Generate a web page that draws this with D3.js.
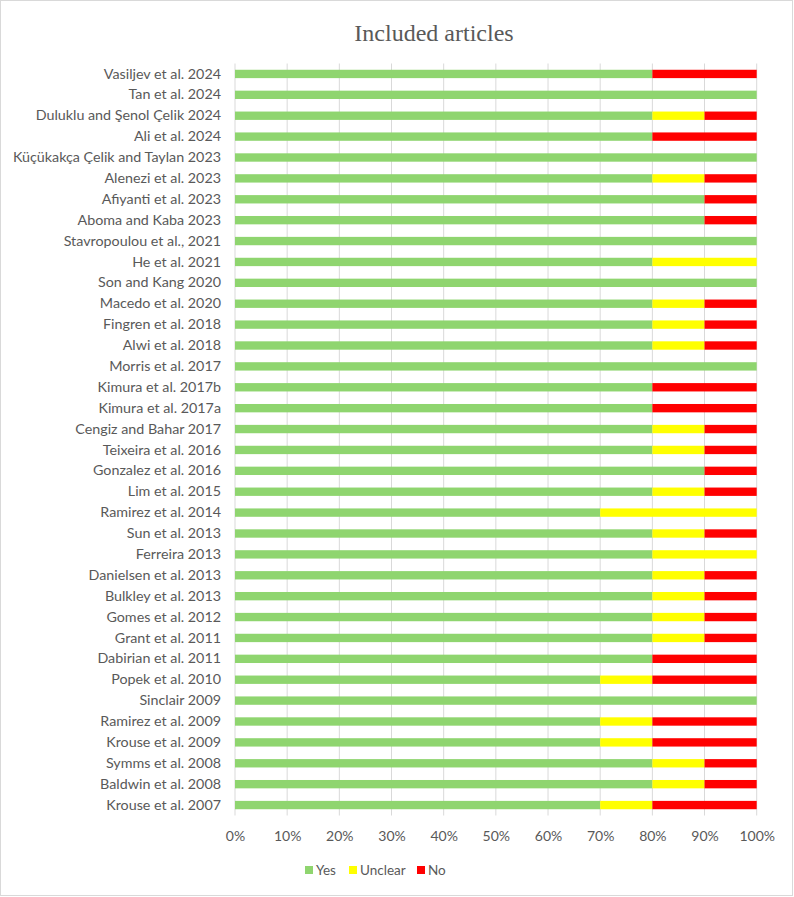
<!DOCTYPE html>
<html>
<head>
<meta charset="utf-8">
<script src="https://cdn.jsdelivr.net/npm/d3@7"></script>
<style>
  body { margin: 0; background: #fff; }
  svg { display: block; }
</style>
</head>
<body>
<svg id="chart" width="794" height="897"></svg>
<script>
const articles = [
  "Vasiljev et al. 2024", "Tan et al. 2024", "Duluklu and Şenol Çelik 2024", "Ali et al. 2024",
  "Küçükakça Çelik and Taylan 2023", "Alenezi et al. 2023", "Afiyanti et al. 2023", "Aboma and Kaba 2023",
  "Stavropoulou et al., 2021", "He et al. 2021", "Son and Kang 2020", "Macedo et al. 2020",
  "Fingren et al. 2018", "Alwi et al. 2018", "Morris et al. 2017", "Kimura et al. 2017b",
  "Kimura et al. 2017a", "Cengiz and Bahar 2017", "Teixeira et al. 2016", "Gonzalez et al. 2016",
  "Lim et al. 2015", "Ramirez et al. 2014", "Sun et al. 2013", "Ferreira 2013",
  "Danielsen et al. 2013", "Bulkley et al. 2013", "Gomes et al. 2012", "Grant et al. 2011",
  "Dabirian et al. 2011", "Popek et al. 2010", "Sinclair 2009", "Ramirez et al. 2009",
  "Krouse et al. 2009", "Symms et al. 2008", "Baldwin et al. 2008", "Krouse et al. 2007"
];
const yes     = [80,100,80,80,100,80,90,90,100,80,100,80,80,80,100,80,80,80,80,90,80,70,80,80,80,80,80,80,80,70,100,70,70,80,80,70];
const unclear = [0,0,10,0,0,10,0,0,0,20,0,10,10,10,0,0,0,10,10,0,10,30,10,20,10,10,10,10,0,10,0,10,10,10,10,10];
const no      = [20,0,10,20,0,10,10,10,0,0,0,10,10,10,0,20,20,10,10,10,10,0,10,0,10,10,10,10,20,20,0,20,20,10,10,20];
const seriesNames = ["Yes", "Unclear", "No"];
const ticks = [0, 10, 20, 30, 40, 50, 60, 70, 80, 90, 100];

const colors = { Yes: "#8fd56f", Unclear: "#ffff00", No: "#ff0000" };
const textColor = "#595959";
const font = "Lato, 'Open Sans', sans-serif";

const svg = d3.select("#chart");
const margin = { top: 63.5, left: 235, right: 37.3, bottom: 81.5 };
const width = 794 - margin.left - margin.right;
const height = 897 - margin.top - margin.bottom;

// outer frame
svg.append("rect")
    .attr("x", 0.5).attr("y", 0.5)
    .attr("width", 792).attr("height", 895)
    .attr("fill", "#fff")
    .attr("stroke", "#d9d9d9");

svg.append("text")
    .attr("x", 434)
    .attr("y", 41)
    .attr("text-anchor", "middle")
    .attr("font-family", "'Liberation Serif', 'DejaVu Serif', serif")
    .attr("font-size", "24px")
    .attr("fill", textColor)
    .text("Included articles");

const g = svg.append("g")
    .attr("transform", `translate(${margin.left},${margin.top})`);

const x = d3.scaleLinear().domain([0, 100]).range([0, width]);
const y = d3.scaleBand().domain(articles).range([0, height]).paddingInner(0.6).paddingOuter(0.3);

// grid lines
g.selectAll(".grid")
    .data(ticks)
    .enter()
    .append("line")
    .attr("x1", d => x(d)).attr("x2", d => x(d))
    .attr("y1", 0).attr("y2", height)
    .attr("stroke", "#d9d9d9")
    .attr("stroke-width", 1);

const rows = articles.map((name, i) => ({ name, Yes: yes[i], Unclear: unclear[i], No: no[i] }));
const stacked = d3.stack().keys(seriesNames)(rows);

g.selectAll(".series")
    .data(stacked)
    .enter()
    .append("g")
    .attr("fill", d => colors[d.key])
    .selectAll("rect")
    .data(d => d.filter(s => s[1] > s[0]))
    .enter()
    .append("rect")
    .attr("x", d => x(d[0]))
    .attr("width", d => x(d[1]) - x(d[0]))
    .attr("y", d => y(d.data.name))
    .attr("height", y.bandwidth());

// Y axis labels
const yAxis = g.append("g")
    .call(d3.axisLeft(y).tickSize(0).tickPadding(14));
yAxis.select(".domain").remove();
yAxis.selectAll("text")
    .attr("font-family", font)
    .attr("font-size", "14.3px")
    .attr("fill", textColor);

// X axis labels
const xAxis = g.append("g")
    .attr("transform", `translate(0,${height})`)
    .call(d3.axisBottom(x).tickValues(ticks).tickSize(0).tickPadding(16).tickFormat(d => d + "%"));
xAxis.select(".domain").remove();
xAxis.selectAll("text")
    .attr("font-family", font)
    .attr("font-size", "14px")
    .attr("fill", textColor);

// Legend
const legendX = [305, 349, 417];
const legend = svg.append("g")
    .selectAll("g")
    .data(seriesNames)
    .enter()
    .append("g")
    .attr("transform", (d, i) => `translate(${legendX[i]},870)`);
legend.append("rect")
    .attr("x", 0).attr("y", -4)
    .attr("width", 8).attr("height", 8)
    .attr("fill", d => colors[d]);
legend.append("text")
    .attr("x", 11)
    .attr("y", 5)
    .attr("font-family", font)
    .attr("font-size", "13.5px")
    .attr("fill", textColor)
    .text(d => d);
</script>
</body>
</html>
